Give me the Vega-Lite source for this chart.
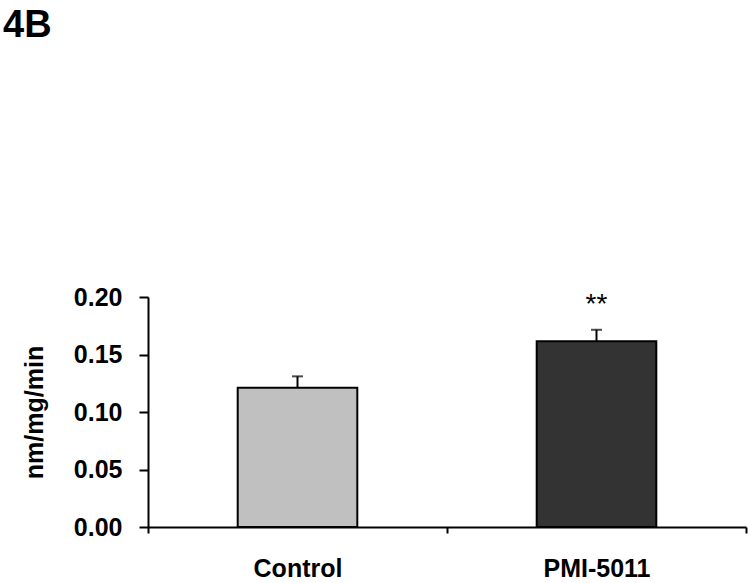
{
  "$schema": "https://vega.github.io/schema/vega-lite/v6.json",
  "width": 598,
  "height": 230,
  "autosize": {"type": "none"},
  "padding": {"left": 148, "top": 297, "right": 4, "bottom": 56},
  "background": "white",
  "config": {"view": {"stroke": null}, "font": "Liberation Sans"},
  "title": {"text": "4B", "anchor": "start", "frame": "group", "fontSize": 38, "font": "Liberation Sans", "fontWeight": "bold", "color": "black", "dx": -145, "offset": 0, "dy": -240},
  "data": {"values": [
    {"group": "Control", "mean": 0.121, "upper": 0.131, "sig": ""},
    {"group": "PMI-5011", "mean": 0.1615, "upper": 0.1715, "sig": "**"}
  ]},
  "encoding": {
    "x": {"field": "group", "type": "nominal", "sort": null, "title": null,
      "scale": {"paddingInner": 0, "paddingOuter": 0},
      "axis": {"tickBand": "extent", "labelAngle": 0, "tickSize": 6, "tickWidth": 2, "tickColor": "black", "domainColor": "black", "domainWidth": 2, "labelFont": "Liberation Sans", "labelFontWeight": "bold", "labelFontSize": 25, "labelColor": "black", "labelPadding": 23, "grid": false}}
  },
  "layer": [
    {"mark": {"type": "bar", "width": {"band": 0.4}, "stroke": "black", "strokeWidth": 2},
     "encoding": {
       "y": {"field": "mean", "type": "quantitative", "title": "nm/mg/min",
         "scale": {"domain": [0, 0.2], "nice": false},
         "axis": {"values": [0, 0.05, 0.1, 0.15, 0.2], "format": ".2f", "grid": false, "tickSize": 9, "tickWidth": 2, "tickColor": "black", "domainColor": "black", "domainWidth": 2, "labelFont": "Liberation Sans", "labelFontWeight": "bold", "labelFontSize": 25, "labelColor": "black", "labelPadding": 17, "titleFont": "Liberation Sans", "titleFontWeight": "bold", "titleFontSize": 25, "titleColor": "black", "titlePadding": 26}},
       "fill": {"field": "group", "type": "nominal", "scale": {"domain": ["Control", "PMI-5011"], "range": ["#c0c0c0", "#333333"]}, "legend": null}
     }},
    {"mark": {"type": "rule", "strokeWidth": 2, "color": "black"},
     "encoding": {"y": {"field": "mean", "type": "quantitative"}, "y2": {"field": "upper"}}},
    {"mark": {"type": "tick", "size": 11, "thickness": 2, "color": "black"},
     "encoding": {"y": {"field": "upper", "type": "quantitative"}}},
    {"mark": {"type": "text", "dy": -17, "baseline": "alphabetic", "fontSize": 28, "font": "Liberation Sans", "color": "black"},
     "encoding": {"y": {"field": "upper", "type": "quantitative"}, "text": {"field": "sig"}}}
  ]
}
